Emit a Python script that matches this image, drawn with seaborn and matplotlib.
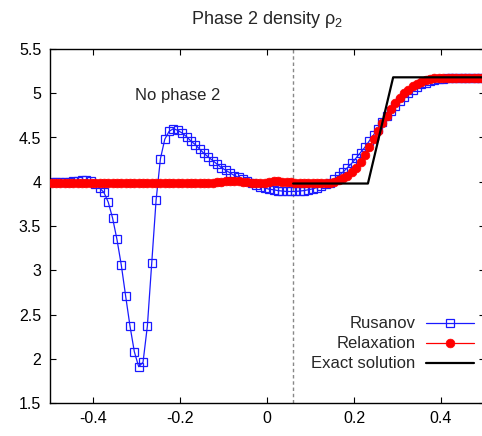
import numpy as np
import seaborn as sns
import matplotlib
matplotlib.use("Agg")
import matplotlib.pyplot as plt

# cell centres of the 100-cell mesh
x_cells = np.round(np.arange(-0.495, 0.5, 0.01), 3)

rusanov = [
    4.00, 4.00, 4.00, 4.00, 4.00, 4.005, 4.01, 4.015, 4.02, 4.01,
    3.98, 3.93, 3.88, 3.77, 3.59, 3.35, 3.06, 2.71, 2.37, 2.08,
    1.91, 1.96, 2.37, 3.08, 3.79, 4.26, 4.48, 4.57, 4.60, 4.58,
    4.55, 4.51, 4.46, 4.42, 4.37, 4.32, 4.28, 4.24, 4.20, 4.16,
    4.13, 4.10, 4.07, 4.05, 4.03, 4.01, 3.99, 3.965, 3.945, 3.93,
    3.915, 3.91, 3.90, 3.895, 3.89, 3.89, 3.89, 3.895, 3.90, 3.91,
    3.92, 3.935, 3.95, 3.97, 3.99, 4.03, 4.07, 4.11, 4.16, 4.21,
    4.27, 4.33, 4.39, 4.46, 4.53, 4.60, 4.67, 4.74, 4.80, 4.86,
    4.91, 4.96, 5.00, 5.04, 5.07, 5.10, 5.12, 5.14, 5.15, 5.16,
    5.165, 5.17, 5.17, 5.17, 5.17, 5.17, 5.17, 5.17, 5.17, 5.17,
]

relaxation = [
    3.985, 3.985, 3.985, 3.985, 3.985, 3.985, 3.985, 3.985, 3.985, 3.985,
    3.985, 3.985, 3.985, 3.985, 3.985, 3.985, 3.985, 3.985, 3.985, 3.985,
    3.985, 3.985, 3.985, 3.985, 3.985, 3.985, 3.985, 3.985, 3.985, 3.985,
    3.99, 3.99, 3.99, 3.99, 3.99, 3.99, 3.99, 3.99, 3.995, 4.00,
    4.005, 4.01, 4.01, 4.005, 4.00, 3.995, 3.99, 3.985, 3.985, 3.99,
    4.00, 4.005, 4.005, 4.00, 4.00, 3.995, 3.99, 3.99, 3.99, 3.99,
    3.99, 3.99, 3.99, 3.99, 3.99, 4.00, 4.02, 4.04, 4.07, 4.11,
    4.16, 4.22, 4.30, 4.39, 4.48, 4.57, 4.66, 4.74, 4.82, 4.89,
    4.95, 5.00, 5.04, 5.08, 5.11, 5.13, 5.15, 5.16, 5.17, 5.175,
    5.175, 5.175, 5.175, 5.175, 5.175, 5.175, 5.175, 5.175, 5.175, 5.175,
]

exact_x = [0.06, 0.232, 0.29, 0.5]
exact_y = [3.98, 3.98, 5.18, 5.18]

interface_x = 0.06

sns.set_style("ticks")
plt.rcParams['font.family'] = ['Liberation Sans', 'DejaVu Sans']
plt.rcParams['mathtext.fontset'] = 'custom'
plt.rcParams['mathtext.rm'] = 'Liberation Sans'
plt.rcParams['mathtext.it'] = 'Liberation Sans'

fig = plt.figure(figsize=(4.82, 4.36), dpi=100)
ax = fig.add_axes([49.5 / 482, 33 / 436, 435 / 482, 354 / 436])

ax.axvline(interface_x, color="#888888", lw=1, ls=(0, (2.5, 2)), zorder=1)

sns.lineplot(x=x_cells, y=rusanov, ax=ax, color="#1a1aff", lw=0.9,
             marker="s", markersize=5.4, markerfacecolor="none",
             markeredgecolor="#1a1aff", markeredgewidth=0.9,
             estimator=None, label="Rusanov", zorder=2)
sns.lineplot(x=x_cells, y=relaxation, ax=ax, color="#ff0000", lw=0.9,
             marker="o", markersize=6.3, markerfacecolor="#ff0000",
             markeredgecolor="#ff0000", markeredgewidth=0.5,
             estimator=None, label="Relaxation", zorder=3)
sns.lineplot(x=exact_x, y=exact_y, ax=ax, color="black", lw=1.6,
             estimator=None, sort=False, label="Exact solution", zorder=4)

ax.set_xlim(-0.5, 0.5)
ax.set_ylim(1.5, 5.5)
ax.set_xticks([-0.4, -0.2, 0, 0.2, 0.4])
ax.set_xticklabels(["-0.4", "-0.2", "0", "0.2", "0.4"])
ax.set_yticks([1.5, 2, 2.5, 3, 3.5, 4, 4.5, 5, 5.5])
ax.set_yticklabels(["1.5", "2", "2.5", "3", "3.5", "4", "4.5", "5", "5.5"])
ax.tick_params(direction="in", top=True, right=True, length=4, width=0.8,
               labelsize=11.5, pad=6, colors="black")
for s in ax.spines.values():
    s.set_linewidth(1)
    s.set_color("black")

ax.set_xlabel("")
ax.set_ylabel("")
ax.set_title(r"Phase 2 density $\rho_2$", fontsize=13, pad=18)
ax.text(-0.205, 4.98, "No phase 2", fontsize=12, ha="center", va="center")

ax.legend(loc="center right", bbox_to_anchor=(0.976, 0.167), frameon=False,
          markerfirst=False, fontsize=12, handlelength=2.9, handletextpad=0.6,
          labelspacing=0.3, borderpad=0, borderaxespad=0)

fig.savefig("out.png", dpi=100)
